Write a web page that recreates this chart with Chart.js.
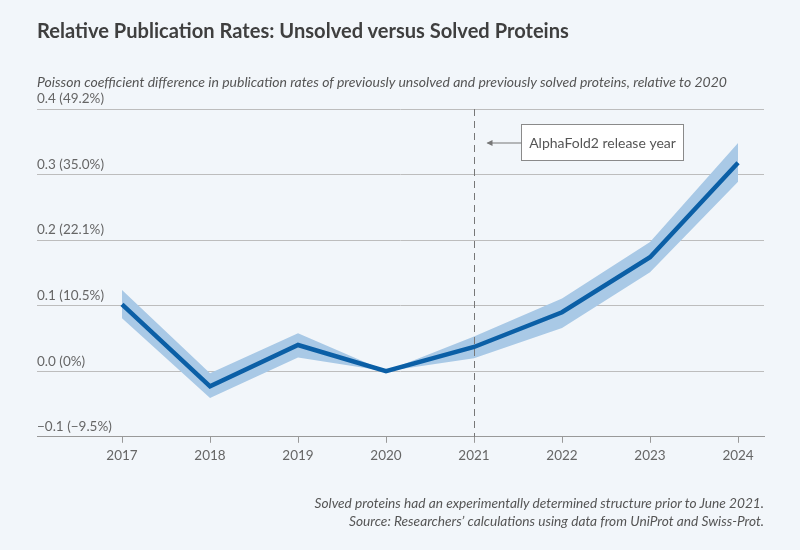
<!DOCTYPE html>
<html>
<head>
<meta charset="utf-8">
<script src="https://cdn.jsdelivr.net/npm/chart.js@4/dist/chart.umd.min.js"></script>
<style>
  html,body{margin:0;padding:0;background:#f2f6fa;}
  #wrap{position:relative;width:800px;height:550px;background:#f2f6fa;overflow:hidden;font-family:Lato,"Noto Sans",sans-serif;}
  #c{position:absolute;left:0;top:0;}
  .t{position:absolute;white-space:nowrap;color:#555;}
  #title{left:37px;top:18px;font-size:20.1px;font-weight:bold;color:#3f3f3f;}
  #sub{left:37px;top:73px;font-size:14px;font-style:italic;}
  #foot{right:36px;top:494px;font-size:13.7px;font-style:italic;text-align:right;line-height:17.5px;}
</style>
</head>
<body>
<div id="wrap">
  <canvas id="c" width="800" height="550"></canvas>
  <div class="t" id="title">Relative Publication Rates: Unsolved versus Solved Proteins</div>
  <div class="t" id="sub">Poisson coefficient difference in publication rates of previously unsolved and previously solved proteins, relative to 2020</div>
  <div class="t" id="foot">Solved proteins had an experimentally determined structure prior to June 2021.<br>Source: Researchers’ calculations using data from UniProt and Swiss-Prot.</div>
</div>
<script>
const years = [2017, 2018, 2019, 2020, 2021, 2022, 2023, 2024];
const coef  = [0.102, -0.023, 0.040, 0.000, 0.037, 0.090, 0.174, 0.318];
const upper = [0.124, -0.003, 0.058, 0.000, 0.053, 0.111, 0.197, 0.348];
const lower = [0.081, -0.041, 0.021, 0.000, 0.020, 0.066, 0.151, 0.289];
const yTickValues = [-0.1, 0.0, 0.1, 0.2, 0.3, 0.4];
const yTickLabels = ['\u22120.1 (\u22129.5%)', '0.0 (0%)', '0.1 (10.5%)', '0.2 (22.1%)', '0.3 (35.0%)', '0.4 (49.2%)'];
const releaseYear = 2021;
const annotationText = 'AlphaFold2 release year';

const pts = arr => years.map((y, i) => ({x: y, y: arr[i]}));

const annot = {
  id: 'annot',
  afterDraw(chart) {
    const {ctx, chartArea, scales} = chart;
    const x = Math.round(scales.x.getPixelForValue(releaseYear)) + 0.5;
    ctx.save();
    ctx.strokeStyle = '#777';
    ctx.lineWidth = 1;
    ctx.setLineDash([7, 5]);
    ctx.beginPath();
    ctx.moveTo(x, chartArea.top);
    ctx.lineTo(x, chartArea.bottom);
    ctx.stroke();
    ctx.setLineDash([]);
    const bx = 521.5, by = 124.5, bw = 162, bh = 36;
    ctx.fillStyle = '#ffffff';
    ctx.fillRect(bx, by, bw, bh);
    ctx.strokeStyle = '#8a8a8a';
    ctx.strokeRect(bx, by, bw, bh);
    ctx.fillStyle = '#555';
    ctx.font = '14px Lato, "Noto Sans", sans-serif';
    ctx.textAlign = 'center';
    ctx.textBaseline = 'middle';
    ctx.fillText(annotationText, bx + bw / 2, by + bh / 2 + 1);
    const ay = by + bh / 2 + 0.5;
    const ax = x + 13;
    ctx.strokeStyle = '#777';
    ctx.beginPath();
    ctx.moveTo(bx, ay);
    ctx.lineTo(ax, ay);
    ctx.stroke();
    ctx.fillStyle = '#777';
    ctx.beginPath();
    ctx.moveTo(ax - 1, ay);
    ctx.lineTo(ax + 5, ay - 3);
    ctx.lineTo(ax + 5, ay + 3);
    ctx.closePath();
    ctx.fill();
    ctx.restore();
  }
};

new Chart(document.getElementById('c'), {
  type: 'line',
  data: {
    datasets: [
      {data: pts(coef), order: 0, borderWidth: 4.5, pointRadius: 0, fill: false, borderColor: '#0b5fa6', borderJoinStyle: 'miter', borderCapStyle: 'butt'},
      {data: pts(upper), order: 1, borderWidth: 0, pointRadius: 0, fill: false, borderColor: 'rgba(0,0,0,0)'},
      {data: pts(lower), order: 2, borderWidth: 0, pointRadius: 0, fill: '-1', backgroundColor: '#a9c9e6', borderColor: 'rgba(0,0,0,0)'}
    ]
  },
  options: {
    responsive: false,
    animation: false,
    devicePixelRatio: 1,
    layout: {padding: {left: 37, right: 36, top: 109, bottom: 81}},
    plugins: {legend: {display: false}, tooltip: {enabled: false}, filler: {drawTime: 'beforeDatasetsDraw'}},
    scales: {
      x: {
        type: 'linear',
        min: 2016.034,
        max: 2024.295,
        afterBuildTicks: s => { s.ticks = years.map(v => ({value: v})); },
        ticks: {
          callback: v => String(v),
          color: '#666',
          font: {family: 'Lato, "Noto Sans", sans-serif', size: 13.5},
          padding: 5,
          maxRotation: 0,
          autoSkip: false
        },
        grid: {display: true, drawOnChartArea: false, drawTicks: true, tickLength: 6, color: '#999'},
        border: {display: true, color: '#999', width: 1}
      },
      y: {
        type: 'linear',
        min: -0.1,
        max: 0.4,
        afterBuildTicks: s => { s.ticks = yTickValues.map(v => ({value: v})); },
        ticks: {
          mirror: true,
          padding: 0,
          labelOffset: -10,
          callback: (v, i) => yTickLabels[i],
          color: '#666',
          font: {family: 'Lato, "Noto Sans", sans-serif', size: 13.5}
        },
        grid: {display: true, drawTicks: false, color: '#bdbdbd', lineWidth: 1},
        border: {display: false}
      }
    }
  },
  plugins: [annot]
});
</script>
</body>
</html>
